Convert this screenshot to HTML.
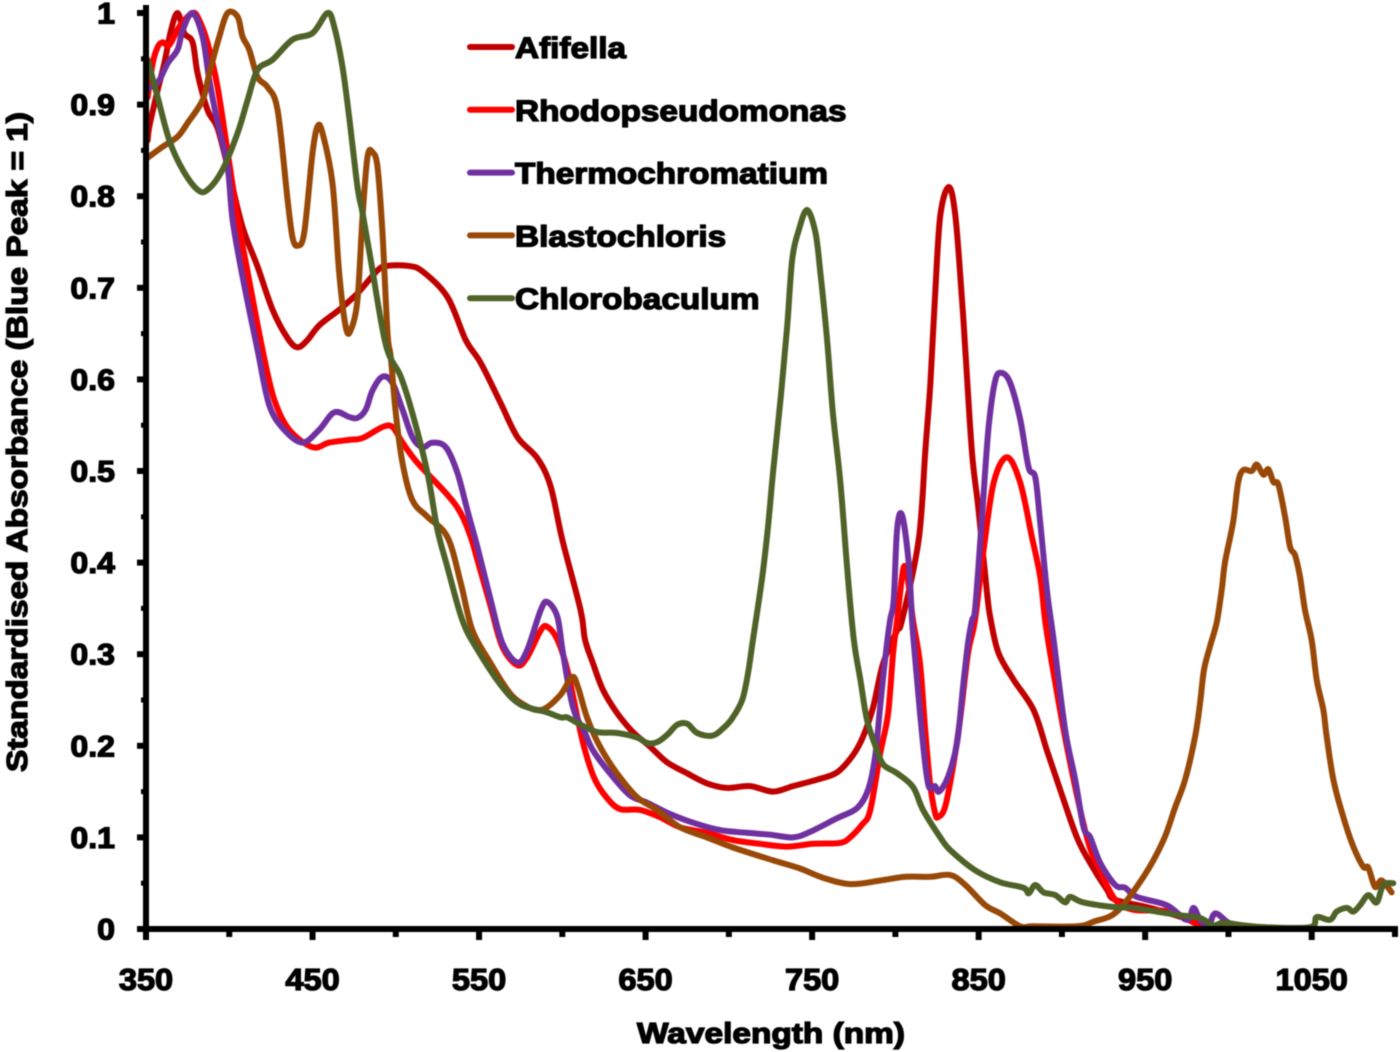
<!DOCTYPE html>
<html>
<head>
<meta charset="utf-8">
<title>Standardised absorbance spectra</title>
<style>
html,body{margin:0;padding:0;background:#fff;width:1400px;height:1052px;overflow:hidden}
svg{display:block;position:absolute;left:0;top:0;filter:blur(.5px)}
text{font-family:"Liberation Sans",sans-serif;font-weight:bold;fill:#000;stroke:#000;stroke-width:1.3px}
</style>
</head>
<body>
<svg id="chart" width="1400" height="1052" viewBox="0 0 1400 1052" xmlns="http://www.w3.org/2000/svg">
<text transform="translate(27,772) rotate(-90)" font-size="29" textLength="660" lengthAdjust="spacingAndGlyphs">Standardised Absorbance (Blue Peak = 1)</text>
<text x="637" y="1043" font-size="29" textLength="268" lengthAdjust="spacingAndGlyphs">Wavelength (nm)</text>
</svg>
<script>
const xTickLabels = [350, 450, 550, 650, 750, 850, 950, 1050];
const xMinorTicks = [400, 500, 600, 700, 800, 900, 1000, 1100];
const yTickLabels = [0, 0.1, 0.2, 0.3, 0.4, 0.5, 0.6, 0.7, 0.8, 0.9, 1];
const yMinorTicks = [0.05, 0.15, 0.25, 0.35, 0.45, 0.55, 0.65, 0.75, 0.85, 0.95];

const seriesNames = ["Afifella", "Rhodopseudomonas", "Thermochromatium", "Blastochloris", "Chlorobaculum"];
const seriesColors = ["#c00000", "#ff0000", "#7030a0", "#984807", "#4f6228"];

const afifellaNm = [351,352,357,361,365,369,373,378,381,387,
393,400,408,417,426,435,441,447,454,466,
477,489,495,507,516,531,542,551,563,573,
585,593,600,611,613.6,618.4,624.4,632.8,642.4,652.7,
662.9,674.9,686.9,698.9,712.7,726.5,738.5,752.9,765,774.6,
780.6,786.6,792.6,801,804,814,818,821,824,827,
832,836,840,842,846,850,855,857.3,862,871,
883,891,899,909,917,927,932,953,977,992];
const afifellaAbs = [.861,.876,.916,.945,.981,1,.978,.968,.934,.894,
.874,.825,.766,.723,.676,.645,.635,.643,.659,.676,
.694,.719,.724,.724,.718,.690,.643,.618,.574,.537,
.514,.483,.425,.348,.316,.290,.261,.236,.215,.199,
.182,.170,.159,.154,.156,.150,.156,.163,.171,.190,
.210,.242,.290,.326,.337,.425,.523,.596,.698,.779,
.810,.779,.687,.632,.520,.457,.367,.337,.301,.272,
.239,.195,.152,.100,.072,.043,.032,.023,.010,.001];

const rhodoNm = [351,354,357,360,364,370,378,382,387,393,
400,406,412,420,427,436,450,460,472,480,
492,498,504,513,531,539,545,549,557,564,
573,579,587,591,597,603,609.4,613.6,619.6,626.8,
634.6,646.6,658.7,670.7,686.9,702.5,718.7,735,750.5,766.7,
772.8,780,784.8,790.8,795.6,798.6,801,805,808,810.6,
814.8,817.8,820.8,823.8,825.6,829.8,834.6,838.8,843.6,847.8,
853,859,867,875,882,887,889.9,894,903,915,
923,932,943,965,983,998];
const rhodoAbs = [.908,.945,.963,.968,.965,.985,1,.992,.967,.919,
.836,.766,.708,.632,.578,.545,.526,.531,.534,.536,
.548,.548,.531,.509,.474,.454,.428,.403,.352,.308,
.288,.297,.326,.330,.316,.283,.228,.195,.163,.143,
.131,.130,.122,.111,.105,.097,.093,.090,.093,.094,
.100,.114,.129,.191,.235,.301,.337,.395,.375,.337,
.290,.220,.159,.127,.122,.133,.177,.228,.301,.337,
.414,.487,.515,.487,.428,.384,.337,.290,.199,.100,
.064,.032,.021,.019,.004,.001];

const thermoNm = [351,357,363,369,372,378,384,388,393,399,
402,408,417,424,433,444,454,463,472,477,
482,486,492,498,504,510,516,522,530,537,
543,549,557,564,573,579,587,591,597,600.4,
606.4,613.6,618.4,628.6,640.6,650.8,662.9,678.5,694.7,710.9,
724.7,738.5,748.7,765,777,783.6,787.8,790.8,793.8,796.8,
799,801,804,808,810,811.8,814.8,817.8,820.2,823.8,
826.2,831.6,837,840.6,843.6,846,848,852,856,860,
864,869,875,880,884,887,891,895,902,908,
913,917,923,932,938,945,963,975,979,983,
988,992,999,1003];
const thermoAbs = [.918,.924,.945,.960,.981,1,.974,.927,.880,.832,
.774,.712,.632,.572,.545,.531,.545,.564,.559,.558,
.567,.588,.603,.596,.567,.537,.526,.531,.526,.498,
.457,.417,.359,.312,.291,.305,.348,.357,.341,.301,
.242,.214,.195,.170,.146,.138,.127,.116,.108,.105,
.103,.100,.106,.121,.132,.152,.188,.242,.294,.337,
.359,.436,.452,.400,.337,.297,.236,.182,.155,.156,
.150,.166,.203,.264,.312,.337,.352,.450,.548,.599,
.607,.596,.556,.504,.493,.443,.370,.316,.217,.163,
.111,.100,.072,.048,.045,.035,.026,.010,.023,.010,
.004,.017,.008,.004];

const blastoNm = [351,360,369,375,384,388,394,399,405,408,
412,417,423,429,435,438,441,445,450,453,
456,462,466,470,473,477,480,483,486,489,
492,495,497,500,504,510,519,531,539,546,
557,567,575,587,598.6,605.8,609.4,614.8,622.6,632.8,
644.8,656.8,670.7,686.9,702.5,726.5,742.7,756.5,773,791,
806,821,833,842,854,863,875,883,909,919,
933,949,961,968,974,980,983,985.3,989,993,
996,998,1002.8,1005.8,1008.8,1014,1017,1021,1024,1027,
1030,1034,1037,1040,1043,1046,1050,1053,1057,1059,
1063,1069,1075,1081,1084,1088,1092,1098];
const blastoAbs = [.842,.854,.865,.880,.905,.934,.974,1,.996,.974,
.960,.930,.919,.894,.796,.755,.746,.760,.847,.876,
.869,.814,.716,.657,.654,.687,.777,.843,.848,.832,
.760,.651,.624,.563,.509,.468,.450,.428,.378,.326,
.290,.261,.247,.239,.255,.275,.264,.231,.199,.170,
.144,.130,.111,.100,.089,.075,.066,.056,.049,.053,
.057,.057,.059,.048,.026,.017,.003,.003,.003,.008,
.019,.057,.097,.133,.163,.210,.247,.283,.309,.335,
.371,.401,.444,.487,.501,.500,.507,.496,.502,.488,
.485,.450,.417,.408,.384,.348,.315,.272,.239,.210,
.163,.122,.090,.068,.067,.046,.053,.040];

const chloroNm = [351,357,364,372,381,387,396,405,411,417,
426,438,450,459,463,468,472,477,480,485,
494,503,510,519,525,531,540,549,564,575,
590,599,603,611,621,633,645,651,657,663,
669,675,681,690,696.5,702,708,711.5,714.5,720,
723.5,726.5,731,735,738,742,747,752,755,759,
762.5,767,771,775,779,783,789,793,801,810.6,
816.6,827,833,848,863,877,880,884,889,896,
902,905,913,931,943,957,971,983,991,997,
1009,1023,1049,1053,1061,1065,1071,1075,1079,1084,
1089,1093,1099];
const chloroAbs = [.949,.908,.861,.829,.807,.807,.829,.869,.905,.938,
.949,.971,.978,1,.985,.941,.886,.810,.782,.730,
.638,.603,.563,.498,.436,.395,.337,.305,.264,.245,
.237,.231,.231,.223,.215,.214,.209,.203,.204,.212,
.223,.224,.214,.211,.219,.230,.250,.279,.316,.384,
.439,.498,.578,.657,.730,.763,.785,.760,.716,.643,
.563,.487,.395,.316,.272,.228,.195,.179,.170,.155,
.130,.100,.086,.064,.051,.045,.039,.048,.040,.037,
.029,.035,.029,.024,.023,.019,.015,.012,.004,.007,
.004,.002,.002,.013,.010,.019,.023,.019,.026,.037,
.029,.048,.050];

const wavelengthSets = [afifellaNm, rhodoNm, thermoNm, blastoNm, chloroNm];
const absorbanceSets = [afifellaAbs, rhodoAbs, thermoAbs, blastoAbs, chloroAbs];

const svg = document.getElementById('chart');
const NS = 'http://www.w3.org/2000/svg';
const xScale = nm => 146 + (nm - 350) * 1.6653;
const yScale = v => 929 - 916 * v;

function makeLine(x1, y1, x2, y2, w, color) {
  const l = document.createElementNS(NS, 'line');
  l.setAttribute('x1', x1);
  l.setAttribute('y1', y1);
  l.setAttribute('x2', x2);
  l.setAttribute('y2', y2);
  l.setAttribute('stroke', color);
  l.setAttribute('stroke-width', w);
  svg.appendChild(l);
  return l;
}
function makeText(str, x, y, size, anchor, stretch) {
  const t = document.createElementNS(NS, 'text');
  t.setAttribute('x', x);
  t.setAttribute('y', y);
  t.setAttribute('font-size', size);
  t.setAttribute('text-anchor', anchor);
  t.textContent = str;
  svg.appendChild(t);
  t.setAttribute('textLength', (t.getComputedTextLength() * stretch).toFixed(1));
  t.setAttribute('lengthAdjust', 'spacingAndGlyphs');
  return t;
}
function curvePath(nm, abs) {
  const p = nm.map((n, i) => [xScale(n), yScale(abs[i])]);
  let d = 'M' + p[0][0].toFixed(1) + ' ' + p[0][1].toFixed(1);
  for (let i = 0; i < p.length - 1; i++) {
    const a = p[Math.max(i - 1, 0)], b = p[i], c = p[i + 1], e = p[Math.min(i + 2, p.length - 1)];
    const c1x = b[0] + (c[0] - a[0]) / 6, c1y = b[1] + (c[1] - a[1]) / 6;
    const c2x = c[0] - (e[0] - b[0]) / 6, c2y = c[1] - (e[1] - b[1]) / 6;
    d += 'C' + c1x.toFixed(1) + ' ' + c1y.toFixed(1) + ' ' + c2x.toFixed(1) + ' ' + c2y.toFixed(1) + ' ' + c[0].toFixed(1) + ' ' + c[1].toFixed(1);
  }
  return d;
}

seriesNames.forEach((name, i) => {
  const path = document.createElementNS(NS, 'path');
  path.setAttribute('d', curvePath(wavelengthSets[i], absorbanceSets[i]));
  path.setAttribute('fill', 'none');
  path.setAttribute('stroke', seriesColors[i]);
  path.setAttribute('stroke-width', '6');
  path.setAttribute('stroke-linejoin', 'round');
  path.setAttribute('stroke-linecap', 'round');
  
  
  svg.appendChild(path);
});

const yAxisLine = makeLine(146, 5, 146, 932, 6, '#000');


const xAxisLine = makeLine(137, 929, 1398, 929, 6, '#000');



yTickLabels.forEach(v => {
  const tick = makeLine(137, yScale(v), 146, yScale(v), 6, '#000');
  
  
  const label = makeText(String(v), 115, yScale(v) + 10.5, 30, 'end', 1.07);
  
  
});
yMinorTicks.forEach(v => {
  const tick = makeLine(141, yScale(v), 146, yScale(v), 5, '#000');
  
  
});
xTickLabels.forEach(n => {
  const tick = makeLine(xScale(n), 929, xScale(n), 940, 6, '#000');
  
  
  const label = makeText(String(n), xScale(n), 990, 31, 'middle', 1.05);
  
  
});
xMinorTicks.forEach(n => {
  const tick = makeLine(xScale(n), 929, xScale(n), 937, 6, '#000');
  
  
});

seriesNames.forEach((name, i) => {
  const rowY = 47 + i * 62.8;
  const key = makeLine(470, rowY, 512, rowY, 6, seriesColors[i]);
  key.setAttribute('stroke-linecap', 'round');
  
  
  const label = makeText(name, 515, rowY + 11, 29.5, 'start', 1.13);
  
  
});
</script>
</body>
</html>
